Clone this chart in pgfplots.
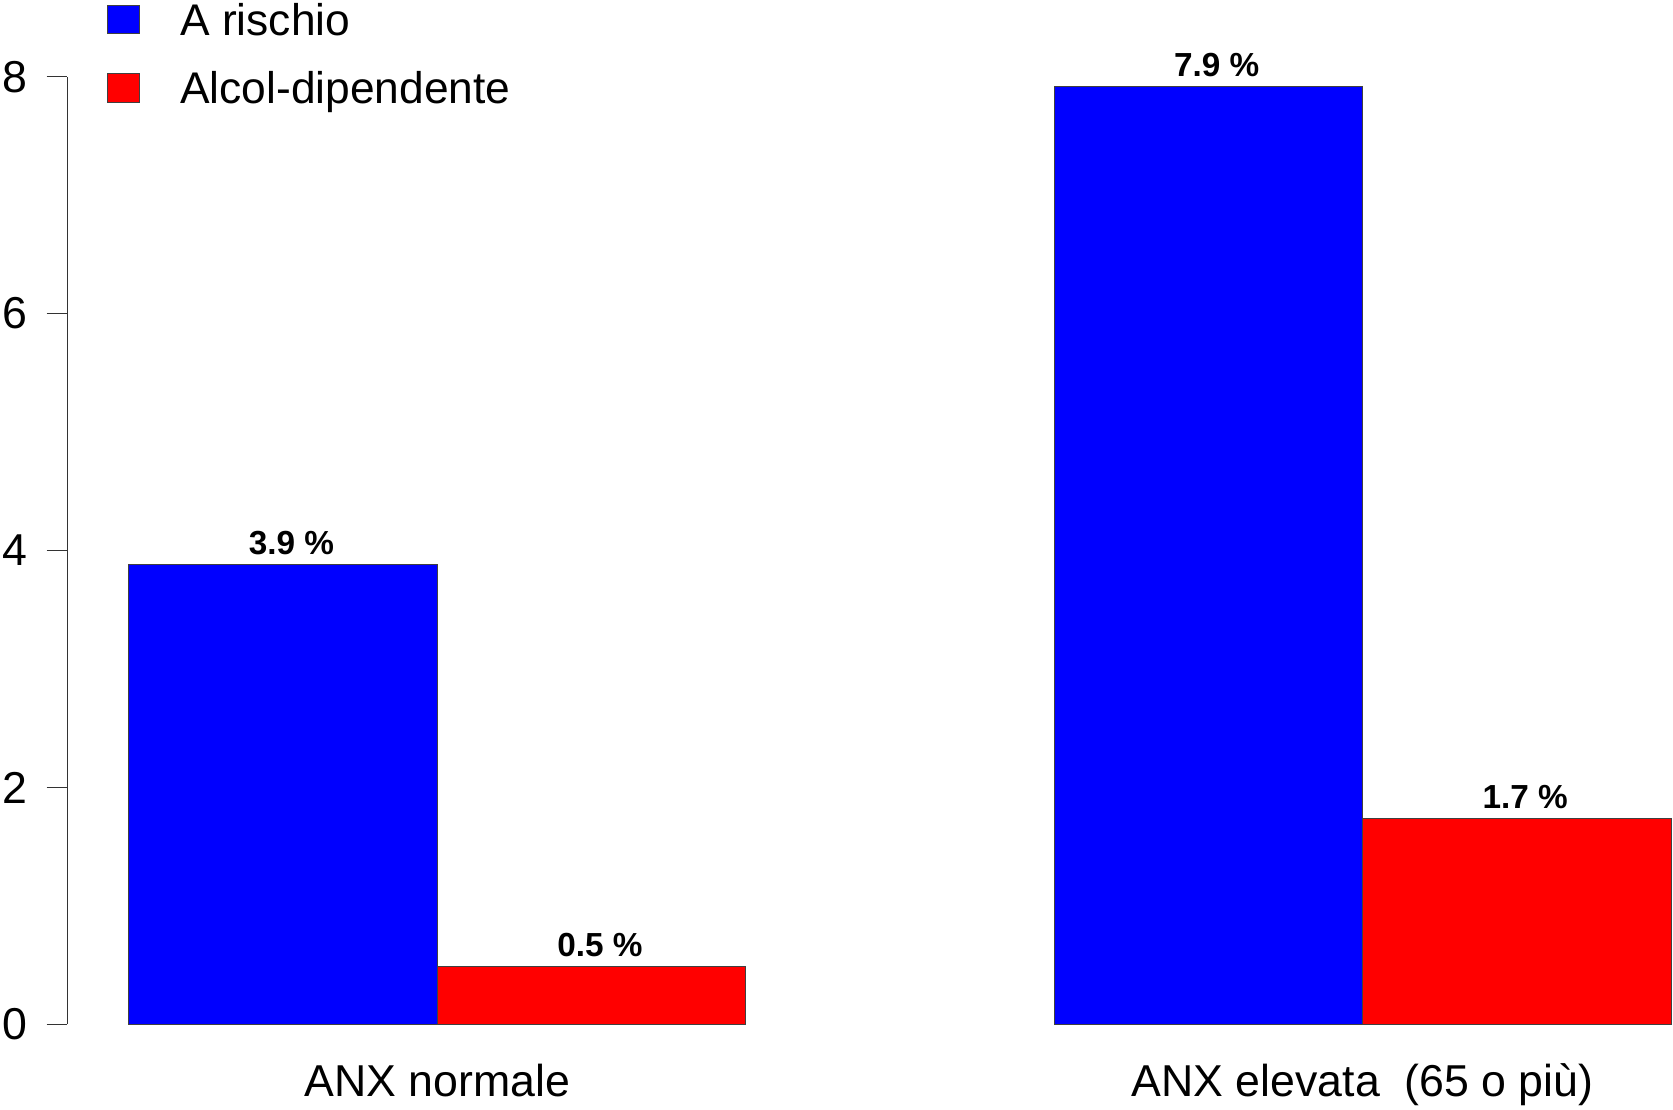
\documentclass[border=0pt]{standalone}
\usepackage{pgfplots}
\pgfplotsset{compat=1.18}
\usepackage{fontspec}
\setmainfont{Liberation Sans}
\begin{document}
\begin{tikzpicture}
\begin{axis}[
  width=481.71pt, height=284.28pt, scale only axis,
  xmin=0.8, xmax=6.0065, ymin=0, ymax=8,
  clip=false,
  axis lines*=left,
  x axis line style={draw=none},
  y axis line style={line width=0.35pt, draw=black!80},
  ybar=0pt, bar width=92.52pt,
  xtick={2,5}, xticklabels={ANX normale, ANX elevata\ \ (65 o più)},
  xtick style={draw=none},
  ytick={0,2,4,6,8},
  ytick style={line width=0.35pt, draw=black!80},
  tick align=outside, major tick length=6.2pt,
  tick label style={font=\fontsize{13.4}{16}\selectfont},
  /pgf/number format/assume math mode=true,
  yticklabel style={anchor=east, inner sep=0pt, xshift=-5.6pt},
  xticklabel style={anchor=base, inner sep=0pt, yshift=-15.6pt},
  nodes near coords={\pgfmathprintnumber[fixed,precision=1,fixed zerofill]{\pgfplotspointmeta}\ \%},
  every node near coord/.append style={font=\fontsize{10}{12}\selectfont\bfseries, anchor=base, inner sep=0pt, yshift=3pt, xshift=2.5pt, text=black},
  legend style={at={(0.0247,1.080)}, anchor=north west, draw=none, fill=none, inner sep=0pt, outer sep=0pt, row sep=0pt, column sep=12.1pt, font=\fontsize{13.3}{16}\selectfont, nodes={inner sep=0pt, text height=10.3pt, text depth=10.3pt}},
  legend cell align=left,
  legend image code/.code={\draw[#1, line width=0.3pt] (0pt,0.46pt) rectangle (9.6pt,9.06pt);},
]
\addplot[fill=blue, draw=black!75, line width=0.3pt] coordinates {(2,3.878) (5,7.916)};
\addplot[fill=red, draw=black!75, line width=0.3pt] coordinates {(2,0.486) (5,1.736)};
\legend{A rischio, Alcol-dipendente}
\end{axis}
\pgfresetboundingbox
\path[use as bounding box] (-20.19pt,-25.41pt) rectangle (481.71pt,307.29pt);
\end{tikzpicture}
\end{document}
